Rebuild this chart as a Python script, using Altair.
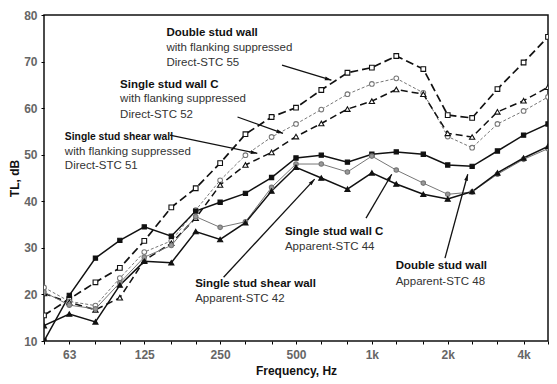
import altair as alt
import pandas as pd

# 1/3-octave band centre frequencies (Hz)
freqs = [50, 63, 80, 100, 125, 160, 200, 250, 315, 400, 500, 630, 800,
         1000, 1250, 1600, 2000, 2500, 3150, 4000, 5000]

# Transmission loss (dB)
double_direct = [15.5, 19.0, 22.6, 25.7, 31.5, 38.7, 42.8, 48.2, 54.4, 58.1, 60.1,
                 63.9, 67.6, 68.7, 71.2, 68.4, 58.5, 57.9, 64.1, 69.8, 75.3]
wallc_direct = [21.5, 18.5, 17.6, 23.5, 29.1, 31.5, 38.1, 44.5, 49.9, 53.8, 56.6,
                59.7, 63.0, 65.2, 66.4, 63.3, 53.9, 51.5, 56.6, 59.4, 62.4]
shear_direct = [20.2, 18.3, 16.7, 19.3, 27.3, 31.0, 36.4, 43.5, 47.8, 50.5, 53.9,
                56.7, 59.8, 61.5, 64.0, 63.0, 54.6, 53.8, 59.2, 61.6, 64.5]
double_app = [10.0, 19.8, 27.8, 31.6, 34.5, 32.5, 37.9, 39.8, 41.7, 45.1, 49.3,
              49.9, 48.4, 50.1, 50.6, 50.1, 47.8, 47.5, 50.8, 54.2, 56.6]
wallc_app = [20.5, 17.7, 16.9, 22.5, 28.0, 30.5, 36.7, 34.4, 35.6, 43.0, 48.0,
             48.0, 46.3, 49.7, 46.7, 43.9, 41.5, 42.0, 45.8, 49.0, 51.3]
shear_app = [13.3, 15.8, 14.1, 22.0, 27.1, 26.8, 33.5, 31.8, 35.4, 42.2, 47.3,
             45.0, 42.6, 46.1, 43.7, 41.5, 40.5, 42.1, 46.1, 49.3, 51.8]

octave_labels = [63, 125, 250, 500, 1000, 2000, 4000]
y_ticks = [10, 20, 30, 40, 50, 60, 70, 80]

# annotation text: (text, freq, dB, bold, font size)
ann_text = [
    ("Double stud wall", 153, 76.1, True, 11.5),
    ("with flanking suppressed", 153, 72.9, False, 11.5),
    ("Direct-STC 55", 153, 69.7, False, 11.5),
    ("Single stud wall C", 100.2, 65.0, True, 11.5),
    ("with flanking suppressed", 100.2, 61.95, False, 11.5),
    ("Direct-STC 52", 100.2, 58.5, False, 11.5),
    ("Single stud shear wall", 60.5, 53.8, True, 10.3),
    ("with flanking suppressed", 60.5, 50.6, False, 11.5),
    ("Direct-STC 51", 60.5, 47.55, False, 11.5),
    ("Single stud wall C", 452, 33.4, True, 11.5),
    ("Apparent-STC 44", 452, 30.1, False, 11.5),
    ("Double stud wall", 1243, 26.1, True, 11.5),
    ("Apparent-STC 48", 1243, 22.6, False, 11.5),
    ("Single stud shear wall", 199, 22.2, True, 11.5),
    ("Apparent-STC 42", 199, 19.0, False, 11.5),
]

# arrows: (f1, dB1, f2, dB2)
arrow_pts = [
    (440, 69.25, 691, 66.0),
    (293, 58.1, 444, 54.6),
    (158, 54.2, 351, 50.3),
    (258, 23.7, 593, 44.75),
    (948, 36.4, 1199, 45.8),
    (1951, 27.8, 2402, 45.8),
]
arrow_angles = [106.7, 109.2, 101.3, 43.2, 30.6, 15.3]

series = [
    ("double_direct", double_direct),
    ("wallc_direct", wallc_direct),
    ("shear_direct", shear_direct),
    ("double_app", double_app),
    ("wallc_app", wallc_app),
    ("shear_app", shear_app),
]

styles = {
    "double_direct": dict(color="#111", dash=[8, 4], width=1.7, shape="square", fill="white", size=22),
    "wallc_direct": dict(color="#777", dash=[3, 2], width=1.0, shape="circle", fill="white", size=22),
    "shear_direct": dict(color="#111", dash=[7, 4], width=1.5, shape="triangle-up", fill="white", size=28),
    "double_app": dict(color="#111", dash=None, width=1.5, shape="square", fill="#111", size=18),
    "wallc_app": dict(color="#777", dash=None, width=1.0, shape="circle", fill="#999", size=20),
    "shear_app": dict(color="#111", dash=None, width=1.5, shape="triangle-up", fill="#111", size=26),
}

FONT = "Liberation Sans"

x_scale = alt.Scale(type="log", domain=[50, 5000], nice=False)
y_scale = alt.Scale(domain=[10, 80], nice=False, zero=False)

x_axis = alt.Axis(
    values=freqs,
    labelExpr="indexof([63,125,250,500,1000,2000,4000], datum.value) >= 0 ? "
              "(datum.value >= 1000 ? (datum.value/1000) + 'k' : '' + datum.value) : ''",
    grid=False, tickSize=3, tickColor="black", domain=False,
    labelColor="#666", labelFontWeight="bold", labelFont=FONT, labelFontSize=12,
    labelPadding=5, labelFlush=False, labelOverlap=False,
    title="Frequency, Hz", titleFont=FONT, titleFontSize=12, titleFontWeight="bold",
    titleColor="#111", titlePadding=5,
)
y_axis = alt.Axis(
    values=y_ticks,
    grid=False, tickSize=3, tickColor="black", domain=False,
    labelColor="#666", labelFontWeight="bold", labelFont=FONT, labelFontSize=12,
    labelPadding=4,
    title="TL, dB", titleFont=FONT, titleFontSize=12, titleFontWeight="bold",
    titleColor="#111", titlePadding=2,
)


def X(field):
    return alt.X(field, scale=x_scale, axis=x_axis)


def Y(field):
    return alt.Y(field, scale=y_scale, axis=y_axis)


layers = []
for name, vals in series:
    d = pd.DataFrame({"freq": freqs, "tl": vals})
    st = styles[name]
    line_kw = dict(color=st["color"], strokeWidth=st["width"], clip=True)
    if st["dash"]:
        line_kw["strokeDash"] = st["dash"]
    layers.append(alt.Chart(d).mark_line(**line_kw).encode(x=X("freq:Q"), y=Y("tl:Q")))

for name, vals in series:
    d = pd.DataFrame({"freq": freqs, "tl": vals})
    st = styles[name]
    layers.append(
        alt.Chart(d).mark_point(
            shape=st["shape"], filled=True, fill=st["fill"], stroke=st["color"],
            strokeWidth=1.1, size=st["size"], opacity=1, clip=True,
        ).encode(x=X("freq:Q"), y=Y("tl:Q"))
    )

adf = pd.DataFrame({
    "f1": [a[0] for a in arrow_pts], "d1": [a[1] for a in arrow_pts],
    "f2": [a[2] for a in arrow_pts], "d2": [a[3] for a in arrow_pts],
    "ang": arrow_angles,
})
layers.append(
    alt.Chart(adf).mark_rule(color="#111", strokeWidth=1.3).encode(
        x=X("f1:Q"), y=Y("d1:Q"), x2="f2:Q", y2="d2:Q")
)
layers.append(
    alt.Chart(adf).mark_point(shape="M0,0L-0.7,2.4L0.7,2.4Z", filled=True, color="#111",
                              size=30, opacity=1).encode(
        x=X("f2:Q"), y=Y("d2:Q"), angle=alt.Angle("ang:Q", scale=None))
)

tdf = pd.DataFrame({
    "text": [t[0] for t in ann_text], "freq": [t[1] for t in ann_text],
    "tl": [t[2] for t in ann_text], "bold": [t[3] for t in ann_text],
    "fs": [t[4] for t in ann_text],
})
layers.append(
    alt.Chart(tdf[tdf["bold"]]).mark_text(align="left", baseline="middle", font=FONT,
                                          fontWeight="bold", color="#111").encode(
        x=X("freq:Q"), y=Y("tl:Q"), text="text:N", size=alt.Size("fs:Q", scale=None))
)
layers.append(
    alt.Chart(tdf[~tdf["bold"]]).mark_text(align="left", baseline="middle", font=FONT,
                                           color="#333").encode(
        x=X("freq:Q"), y=Y("tl:Q"), text="text:N", size=alt.Size("fs:Q", scale=None))
)

chart = alt.layer(*layers).properties(
    width=504, height=326,
    autosize=alt.AutoSizeParams(type="none"),
    padding={"left": 36, "top": 7, "right": 1, "bottom": 42},
    background="white",
).configure_view(stroke="#111", strokeWidth=1.5)

chart.save("out.html", embed_options={"renderer": "svg", "actions": False})
